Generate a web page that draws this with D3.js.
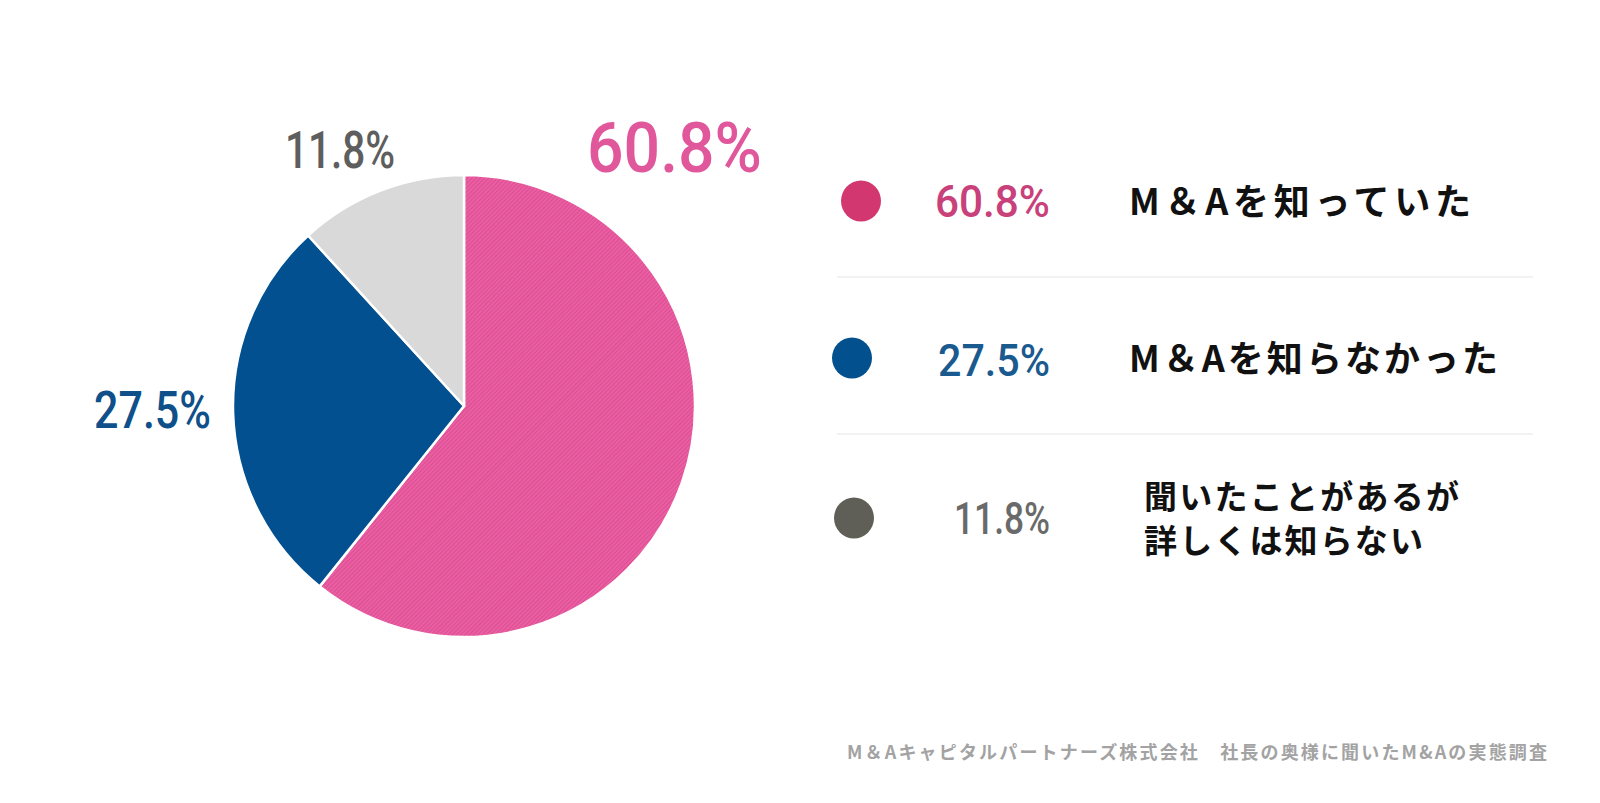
<!DOCTYPE html>
<html><head><meta charset="utf-8">
<script src="https://cdn.jsdelivr.net/npm/d3@7"></script>
<style>
html,body{margin:0;padding:0;background:#fff;}
svg{display:block;}
</style></head>
<body>
<svg id="chart" width="1600" height="803"></svg>
<script>
// ---- data ----
const categories = ["M＆Aを知っていた", "M＆Aを知らなかった", "聞いたことがあるが\n詳しくは知らない"];
const values = [60.8, 27.5, 11.8];
const valueLabels = ["60.8%", "27.5%", "11.8%"];
const source = "M＆Aキャピタルパートナーズ株式会社　社長の奥様に聞いたM&Aの実態調査";

// ---- styles ----
const sliceColors = ["url(#pinkHatch)", "#02508f", "#d9d9d9"];
const pieLabelColors = ["#e0579b", "#0f4f8a", "#5e5e5e"];
const dotColors = ["#d2376f", "#03508f", "#5f5f57"];
const legendNumColors = ["#c8417a", "#1a5a8f", "#6a6a6a"];

const svg = d3.select("#chart");
const defs = svg.append("defs");
const pat = defs.append("pattern").attr("id", "pinkHatch")
  .attr("patternUnits", "userSpaceOnUse").attr("width", 3).attr("height", 3)
  .attr("patternTransform", "rotate(45)");
pat.append("rect").attr("width", 3).attr("height", 3).attr("fill", "#ea5fa1");
pat.append("rect").attr("width", 1).attr("height", 3).attr("fill", "#dc4d93");

// ---- pie ----
const cx = 464, cy = 406, R = 231;
const pie = d3.pie().sort(null).value(d => d);
const arc = d3.arc().innerRadius(0).outerRadius(R);
const g = svg.append("g").attr("transform", `translate(${cx},${cy})`);
g.selectAll("path").data(pie(values)).join("path")
  .attr("d", arc)
  .attr("fill", (d, i) => sliceColors[i])
  .attr("stroke", "#fff").attr("stroke-width", 2.5).attr("stroke-linejoin", "round");

// pie outer labels (layout)
const pieLabelLayout = [
  {x: 587, y: 172, w: 175, size: 70},
  {x: 94, y: 428, w: 117, size: 52},
  {x: 285, y: 168, w: 110, size: 52}
];
svg.selectAll("text.pl").data(valueLabels).join("text")
  .attr("class", "pl")
  .attr("x", (d, i) => pieLabelLayout[i].x)
  .attr("y", (d, i) => pieLabelLayout[i].y)
  .attr("textLength", (d, i) => pieLabelLayout[i].w)
  .attr("lengthAdjust", "spacingAndGlyphs")
  .attr("font-family", "Roboto, 'DejaVu Sans Condensed', sans-serif")
  .attr("font-weight", 500)
  .attr("font-size", (d, i) => pieLabelLayout[i].size)
  .attr("fill", (d, i) => pieLabelColors[i])
  .text(d => d);

// ---- legend ----
const rowY = d3.scalePoint().domain(d3.range(categories.length)).range([201, 515]);
const dotX = [861, 852, 854];
const leg = svg.append("g");
categories.forEach((c, i) => {
  const y = rowY(i);
  leg.append("ellipse").attr("cx", dotX[i]).attr("cy", y + (i === 2 ? 3 : 0))
    .attr("rx", 20).attr("ry", 20.5).attr("fill", dotColors[i]);
  leg.append("text").attr("x", 1050).attr("y", y + (i === 2 ? 19 : 16) + (i===1?2:0))
    .attr("text-anchor", "end")
    .attr("font-family", "Roboto, 'DejaVu Sans Condensed', sans-serif")
    .attr("font-weight", 500).attr("font-size", 44)
    .attr("textLength", i === 0 ? 115 : (i === 1 ? 112 : 96))
    .attr("lengthAdjust", "spacingAndGlyphs")
    .attr("fill", legendNumColors[i]).text(valueLabels[i]);
  const lines = c.split("\n");
  if (lines.length === 1) {
    leg.append("text").attr("x", 1129).attr("y", y + 14)
      .attr("font-family", "'Noto Sans CJK JP', sans-serif")
      .attr("font-weight", 700).attr("font-size", 36)
      .attr("textLength", i === 0 ? 342 : 369).attr("lengthAdjust", "spacing")
      .attr("fill", "#111").text(lines[0]);
  } else {
    const t = leg.append("text")
      .attr("font-family", "'Noto Sans CJK JP', sans-serif")
      .attr("font-weight", 700).attr("font-size", 33)
      .attr("fill", "#111");
    lines.forEach((l, k) => {
      t.append("tspan").attr("x", 1144).attr("y", y - 6 + k * 44)
        .attr("textLength", k === 0 ? 315 : 279).attr("lengthAdjust", "spacing")
        .text(l);
    });
  }
});
// separators
[277, 434].forEach(y => {
  leg.append("line").attr("x1", 837).attr("x2", 1533).attr("y1", y).attr("y2", y)
    .attr("stroke", "#e6e6e6").attr("stroke-width", 1.2);
});

// ---- source ----
svg.append("text").attr("x", 1547).attr("y", 759).attr("text-anchor", "end")
  .attr("font-family", "'Noto Sans CJK JP', sans-serif")
  .attr("font-weight", 700).attr("font-size", 18)
  .attr("textLength", 700).attr("lengthAdjust", "spacing")
  .attr("fill", "#a3a3a3").text(source);
</script>
</body></html>
